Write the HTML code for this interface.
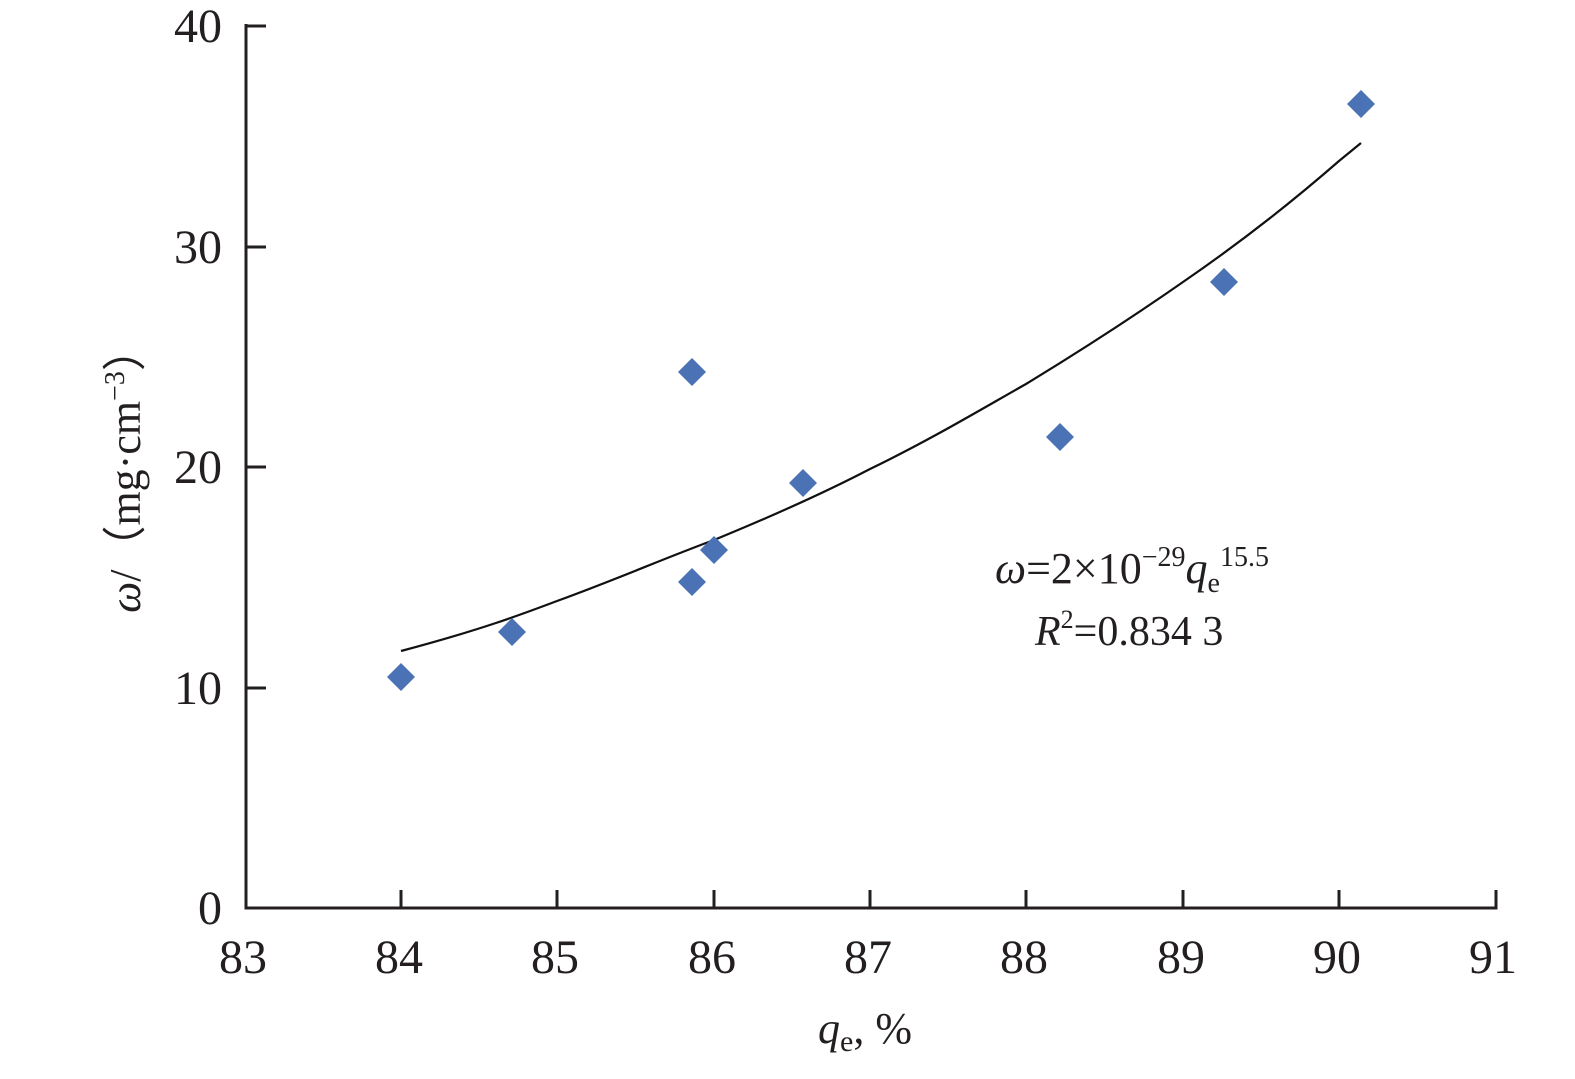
<!DOCTYPE html>
<html><head><meta charset="utf-8"><style>
body{margin:0;background:#fff}
svg text{font-family:"Liberation Serif",serif;fill:#231f20}
</style></head><body>
<svg width="1575" height="1074" xmlns="http://www.w3.org/2000/svg">
<g stroke="#231f20" stroke-width="3" fill="none">
<polyline points="246,24 246,908 1496,908 1496,890"/>
<line x1="246" y1="26" x2="266" y2="26"/>
<line x1="246" y1="247" x2="266" y2="247"/>
<line x1="246" y1="467" x2="266" y2="467"/>
<line x1="246" y1="688" x2="266" y2="688"/>
<line x1="401" y1="908" x2="401" y2="890"/>
<line x1="557" y1="908" x2="557" y2="890"/>
<line x1="714" y1="908" x2="714" y2="890"/>
<line x1="870" y1="908" x2="870" y2="890"/>
<line x1="1026" y1="908" x2="1026" y2="890"/>
<line x1="1183" y1="908" x2="1183" y2="890"/>
<line x1="1339" y1="908" x2="1339" y2="890"/>
</g>
<path d="M401,651 C480,630 520,615 557,601 C620,578 660,560 714,540 C770,517 820,495 870,469 C930,440 980,410 1026,384 C1090,345 1140,312 1183,282 C1250,236 1300,195 1339,161 L1361,143" stroke="#111" stroke-width="2.2" fill="none"/>
<g fill="#4a72b5">
<path d="M401,663 l14,14 -14,14 -14,-14z"/>
<path d="M512,618 l14,14 -14,14 -14,-14z"/>
<path d="M692,358 l14,14 -14,14 -14,-14z"/>
<path d="M692,568 l14,14 -14,14 -14,-14z"/>
<path d="M714,536 l14,14 -14,14 -14,-14z"/>
<path d="M803,469 l14,14 -14,14 -14,-14z"/>
<path d="M1060,423 l14,14 -14,14 -14,-14z"/>
<path d="M1224,268 l14,14 -14,14 -14,-14z"/>
<path d="M1361,90 l14,14 -14,14 -14,-14z"/>
</g>
<g font-size="48" text-anchor="end">
<text x="222" y="42">40</text>
<text x="222" y="263">30</text>
<text x="222" y="483">20</text>
<text x="222" y="704">10</text>
<text x="222" y="924">0</text>
</g>
<g font-size="48" text-anchor="middle">
<text x="243" y="973">83</text>
<text x="399" y="973">84</text>
<text x="555" y="973">85</text>
<text x="712" y="973">86</text>
<text x="868" y="973">87</text>
<text x="1024" y="973">88</text>
<text x="1181" y="973">89</text>
<text x="1337" y="973">90</text>
<text x="1493" y="973">91</text>
</g>
<text x="818" y="1043" font-size="44"><tspan font-style="italic">q</tspan><tspan font-size="30" dy="8">e</tspan><tspan dy="-8">, %</tspan></text>
<text transform="translate(140,470) rotate(-90)" font-size="44" text-anchor="middle"><tspan font-style="italic">ω</tspan>/（mg·cm<tspan font-size="28" dy="-16">−3</tspan><tspan dy="16">）</tspan></text>
<text x="995" y="583" font-size="44"><tspan font-style="italic">ω</tspan>=2×10<tspan font-size="28" dy="-17">−29</tspan><tspan font-style="italic" dy="17">q</tspan><tspan font-size="28" dy="9">e</tspan><tspan font-size="28" dy="-26">15.5</tspan></text>
<text x="1035" y="645" font-size="42" font-family="Liberation Sans,sans-serif"><tspan font-style="italic">R</tspan><tspan font-size="26" dy="-17">2</tspan><tspan dy="17">=0.834 3</tspan></text>
</svg>
</body></html>
